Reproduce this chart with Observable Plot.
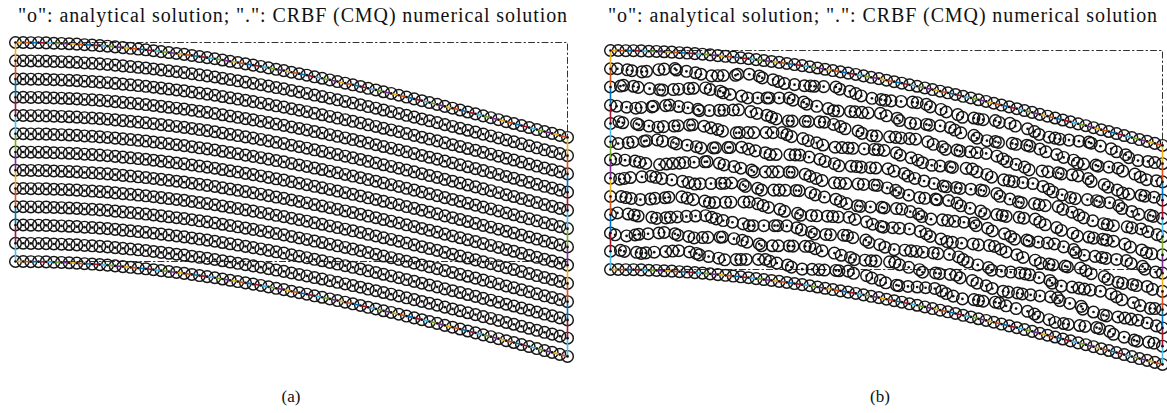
<!DOCTYPE html>
<html>
<head>
<meta charset="utf-8">
<script src="https://cdn.jsdelivr.net/npm/d3@7"></script>
<script src="https://cdn.jsdelivr.net/npm/@observablehq/plot@0.6"></script>
<style>
  html, body { margin: 0; padding: 0; background: #fff; }
  #fig { position: relative; width: 1167px; height: 413px; overflow: hidden; font-family: "Liberation Serif", serif; color: #111; }
  .title { position: absolute; top: 4px; width: 584px; text-align: center; font-size: 20px; letter-spacing: 0.9px; white-space: nowrap; }
  .cap { position: absolute; top: 387px; width: 584px; text-align: center; font-size: 17px; }
  .panel { position: absolute; top: 30px; }
</style>
</head>
<body>
<div id="fig">
  <div class="title" style="left:1px">"o": analytical solution; ".": CRBF (CMQ) numerical solution</div>
  <div class="title" style="left:591px">"o": analytical solution; ".": CRBF (CMQ) numerical solution</div>
  <div class="panel" id="pa" style="left:0px"></div>
  <div class="panel" id="pb" style="left:584px"></div>
  <div class="cap" style="left:-1px">(a)</div>
  <div class="cap" style="left:588px">(b)</div>
</div>
<script>
// Node columns along the beam length and rows through the depth (undeformed grid).
const columns = [0,1,2,3,4,5,6,7,8,9,10,11,12,13,14,15,16,17,18,19,20,21,22,23,24,25,26,27,28,29,30,31,32,33,34,35,36,37,38,39,40,41,42,43,44,45,46,47,48,49,50,51,52,53,54,55,56,57,58,59,60,61,62,63,64,65,66,67,68,69,70,71,72];
const rows = [0,1,2,3,4,5,6,7,8,9,10,11,12];

// Vertical deflection of each node column (in row spacings, downward).
const deflection = [0,0,0.01,0.01,0.02,0.04,0.05,0.07,0.09,0.12,0.14,0.17,0.20,0.24,0.28,0.32,0.36,0.40,0.45,0.50,0.55,0.60,0.65,0.71,0.77,0.83,0.89,0.96,1.03,1.10,1.17,1.24,1.31,1.39,1.47,1.54,1.63,1.71,1.79,1.88,1.96,2.05,2.14,2.23,2.32,2.41,2.51,2.60,2.70,2.79,2.89,2.99,3.09,3.19,3.29,3.39,3.50,3.60,3.70,3.81,3.91,4.02,4.12,4.23,4.34,4.44,4.55,4.66,4.77,4.88,4.98,5.09,5.20];

// Scattered interior nodes (b): offset codes per interior row, 0..8 with 4 = no offset.
const scatterX = [
  "3625174803 5264170582 6314750283 6415720384 6152738406 1528736402 5813746025 4",
  "7140582636 2847105368 1472603851 7320648152 6047318256 0837142658 3170462853 6",
  "2574806135 8036241758 4061827354 0725186342 8571603248 6134075826 4718352061 3",
  "5081463727 1654082317 6840523176 4058317265 1347086251 7402586134 0682571438 2",
  "4738152604 6281705436 2085137462 8513064721 3682504718 2560731846 5137208465 7",
  "1362087541 3706254816 5371842063 1748256037 4805613728 5073841627 3846105273 0",
  "6205731486 4158327061 7426051384 2603817456 0274358162 8617024358 1265047381 5",
  "8413625074 2730418563 0518263741 5386702148 6153027485 3042856170 7418362504 1",
  "3750846213 5862137504 8247360518 3071524863 2516840371 4685137026 5203741658 4",
  "0561374826 3417056281 5372841065 7264085137 1837506242 6351248703 8047165324 6",
  "7284016537 6025384176 2150476382 4185637024 5762138406 1038726451 6382504716 3"
];
const scatterY = [
  "4567643234 5676542123 4566654323 4567765432 2345676543 3234567654 3212345676 5",
  "3234566543 2123456765 4323456787 6543234565 4322345676 5432123456 7654323456 5",
  "5676543234 5654321234 5676543234 5678765432 3456543212 3456765432 1234567654 3",
  "2345676543 2345676543 2123456787 6543212345 6765432345 6543234567 6543234565 4",
  "6543212345 6765432345 6543234567 6543212345 6787654323 4565432123 4567654323 4",
  "3456787654 3212345676 5432345676 5432123456 5432345676 5432123456 7654323456 5",
  "5432123456 7654323456 5432123456 7876543234 5654321234 5676543234 5654321234 5",
  "4567654323 4565432123 4567876543 2345654323 4567654321 2345676543 2345676543 4",
  "2345676543 2123456765 4323456543 2345678765 4321234567 6543234565 4321234567 5",
  "6765432345 6543234567 6543212345 6765432345 6543234567 8765432123 4567654323 4",
  "3456543212 3456765432 3456765432 1234567654 3234565432 1234567876 5432345654 3"
];

// Colour order of the boundary segments.
const edgeColors = ["#EDB120", "#D95319", "#0072BD", "#A2142F", "#4DBEEE", "#77AC30", "#7E2F8E"];

const lastCol = columns[columns.length - 1];
const lastRow = rows[rows.length - 1];

function offsetCode(table, r, c) {
  const s = (table[r - 1] || "").replace(/\s/g, "");
  const ch = s.charAt(c - 1);
  return ch === "" ? 0 : (+ch - 4);
}

function buildNodes(scattered) {
  const nodes = [];
  for (const r of rows) {
    for (const c of columns) {
      const interior = r > 0 && r < lastRow && c > 0 && c < lastCol;
      const jx = scattered && interior ? offsetCode(scatterX, r, c) * 0.1 : 0;
      const jy = scattered && interior ? offsetCode(scatterY, r, c) * 0.05 : 0;
      nodes.push({r, c, x: c + jx, y: r + deflection[c] + jy});
    }
  }
  return nodes;
}

function buildEdges(nodes) {
  const at = (r, c) => nodes.find(n => n.r === r && n.c === c);
  const segs = [];
  const chain = (pts) => {
    for (let i = 0; i + 1 < pts.length; i++) {
      const a = pts[i], b = pts[i + 1];
      segs.push({x1: a.x, y1: a.y, x2: b.x, y2: b.y, color: edgeColors[i % edgeColors.length]});
    }
  };
  chain(columns.map(c => at(0, c)));
  chain(rows.map(r => at(r, lastCol)));
  chain(columns.map(c => at(lastRow, c)));
  chain(rows.map(r => at(r, 0)));
  return segs;
}

// Undeformed outline of the beam.
const outline = [
  {x: 0, y: 0}, {x: lastCol, y: 0}, {x: lastCol, y: lastRow}, {x: 0, y: lastRow}, {x: 0, y: 0}
];

function panel(scattered, xRange, yRange, width) {
  const nodes = buildNodes(scattered);
  const edges = buildEdges(nodes);
  return Plot.plot({
    width, height: 345, margin: 0,
    x: {domain: [0, lastCol], range: xRange, axis: null},
    y: {domain: [0, lastRow], range: yRange, axis: null},
    color: {type: "identity"},
    marks: [
      Plot.line(outline, {x: "x", y: "y", stroke: "#333", strokeWidth: 1, strokeDasharray: "6,3,1.5,3"}),
      Plot.dot(nodes, {x: "x", y: "y", r: 5.8, stroke: "#161616", strokeWidth: 1.45, fill: "none"}),
      Plot.link(edges, {x1: "x1", y1: "y1", x2: "x2", y2: "y2", stroke: "color", strokeWidth: 1.6}),
      Plot.dot(nodes, {x: "x", y: "y", r: 1.35, fill: "#111", stroke: "none"})
    ]
  });
}

document.getElementById("pa").append(panel(false, [15, 567], [12, 231], 584));
document.getElementById("pb").append(panel(true, [26, 578], [20, 239], 583));
</script>
</body>
</html>
